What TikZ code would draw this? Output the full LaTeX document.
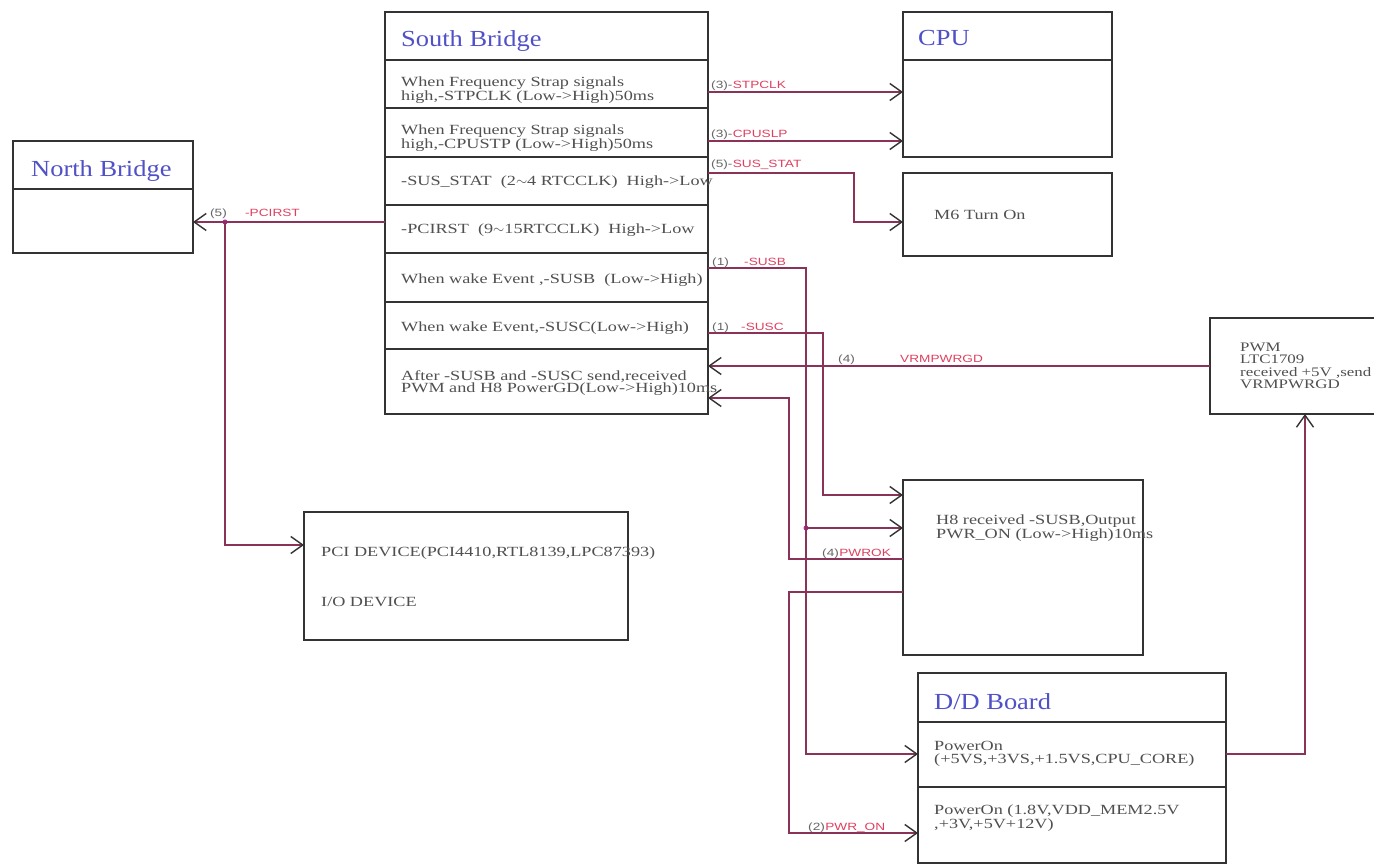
\documentclass[tikz,border=0pt]{standalone}
\usepackage{fontspec}
\setmainfont{Liberation Serif}
\newfontfamily\bodyfam{Liberation Serif}[FakeStretch=1.3]
\newfontfamily\titlefam{Liberation Serif}[FakeStretch=1.15]
\newfontfamily\sigfam{Liberation Sans}[FakeStretch=1.3]
\usetikzlibrary{arrows.meta}
\definecolor{boxc}{HTML}{333333}
\definecolor{titlec}{HTML}{5050C8}
\definecolor{bodyc}{HTML}{505050}
\definecolor{sigc}{HTML}{E04060}
\definecolor{numc}{HTML}{666666}
\definecolor{wirec}{HTML}{8A3258}
\definecolor{dotc}{HTML}{C020C0}
\begin{document}
\begin{tikzpicture}[x=1pt,y=-1pt,
 boxn/.style={draw=boxc, line width=1.8pt, inner sep=0pt, outer sep=0pt, anchor=north west},
 divl/.style={draw=boxc, line width=1.8pt},
 ttl/.style={font=\titlefam\fontsize{23}{26}\selectfont, text=titlec, anchor=west, inner sep=0pt},
 bdy/.style={font=\bodyfam\fontsize{14}{12.5}\selectfont, text=bodyc, anchor=west, align=left, inner sep=0pt},
 sig/.style={font=\sigfam\fontsize{10.5}{12}\selectfont, text=sigc, anchor=base west, inner sep=0pt},
 num/.style={sig, text=numc},
 wire/.style={draw=wirec, line width=1.4pt},
 arr/.style={wire, -{Straight Barb[length=12pt,width=17pt,line width=1.4pt,color=boxc]}},
 jdot/.style={circle, fill=dotc, inner sep=0pt, minimum size=5pt}]

\fill[white] (0,0) rectangle (1374,866);
\useasboundingbox (0,0) rectangle (1374,866);

% ---------- boxes ----------
\node[boxn, minimum width=180pt, minimum height=112pt] (nb) at (13,141) {};
\node[boxn, minimum width=323pt, minimum height=402pt] (sb) at (385,12) {};
\node[boxn, minimum width=209pt, minimum height=145pt] (cpu) at (903,12) {};
\node[boxn, minimum width=209pt, minimum height=83pt] (m6) at (903,173) {};
\node[boxn, minimum width=324pt, minimum height=128pt] (pci) at (304,512) {};
\node[boxn, minimum width=240pt, minimum height=175pt] (h8) at (903,480) {};
\node[boxn, minimum width=200pt, minimum height=96pt] (pwm) at (1210,318) {};
\node[boxn, minimum width=308pt, minimum height=190pt] (dd) at (918,673) {};

% dividers
\draw[divl] (13,189) -- (193,189);
\foreach \yy in {60,108,157,205,253,302,349} \draw[divl] (385,\yy) -- (708,\yy);
\draw[divl] (903,60) -- (1112,60);
\draw[divl] (918,722) -- (1226,722);
\draw[divl] (918,787) -- (1226,787);

% ---------- titles ----------
\node[ttl] (nbT) at (31,171) {North Bridge};
\node[ttl] (sbT) at (401,41) {South Bridge};
\node[ttl] (cpuT) at (918,38) {CPU};
\node[ttl] (ddT) at (934,702) {D/D Board};

% ---------- body texts ----------
\node[bdy] (sb1) at (401,90) {When Frequency Strap signals\\high,-STPCLK (Low->High)50ms};
\node[bdy] (sb2) at (401,138) {When Frequency Strap signals\\high,-CPUSTP (Low->High)50ms};
\node[bdy] (sb3) at (401,182) {-SUS\_STAT\ \ (2$\sim$4 RTCCLK)\ \ High->Low};
\node[bdy] (sb4) at (401,230) {-PCIRST\ \ (9$\sim$15RTCCLK)\ \ High->Low};
\node[bdy] (sb5) at (401,280) {When wake Event ,-SUSB\ \ (Low->High)};
\node[bdy] (sb6) at (401,328) {When wake Event,-SUSC(Low->High)};
\node[bdy] (sb7) at (401,383) {After -SUSB and -SUSC send,received\\PWM and H8 PowerGD(Low->High)10ms};
\node[bdy] (m6T) at (934,215) {M6 Turn On};
\node[bdy, font=\bodyfam\fontsize{14}{50}\selectfont] (pciT) at (321,577) {PCI DEVICE(PCI4410,RTL8139,LPC87393)\\I/O DEVICE};
\node[bdy] (h8T) at (936,528) {H8 received -SUSB,Output\\PWR\_ON (Low->High)10ms};
\node[bdy, font=\bodyfam\fontsize{13}{12.5}\selectfont] (pwmT) at (1240,366) {PWM\\LTC1709\\received +5V ,send\\VRMPWRGD};
\node[bdy] (dd1) at (934,754) {PowerOn\\(+5VS,+3VS,+1.5VS,CPU\_CORE)};
\node[bdy] (dd2) at (934,818) {PowerOn (1.8V,VDD\_MEM2.5V\\,+3V,+5V+12V)};

% ---------- connection points ----------
\coordinate (sbO1) at (708,92);   \coordinate (cpuI1) at (903,92);
\coordinate (sbO2) at (708,141);  \coordinate (cpuI2) at (903,141);
\coordinate (sbO3) at (708,173);  \coordinate (m6I) at (903,222);
\coordinate (sbL) at (385,222);   \coordinate (nbI) at (193,222);
\coordinate (pciI) at (304,545);
\coordinate (sbO5) at (708,268);  \coordinate (sbO6) at (708,333);
\coordinate (sbI1) at (708,366);  \coordinate (sbI2) at (708,398);
\coordinate (pwmO) at (1210,366); \coordinate (pwmI) at (1305,414);
\coordinate (h8I1) at (903,495);  \coordinate (h8I2) at (903,528);
\coordinate (h8O1) at (903,559);  \coordinate (h8O2) at (903,592);
\coordinate (ddI1) at (918,754);  \coordinate (ddI2) at (918,833);
\coordinate (ddO) at (1226,754);

\node[jdot] (j1) at (225,222) {};
\node[jdot] (j2) at (806,528) {};

% ---------- wires ----------
\draw[arr] (sbO1) -- (cpuI1);
\draw[arr] (sbO2) -- (cpuI2);
\draw[arr] (sbO3) -- (854,173) -- (854,222) -- (m6I);
\draw[arr] (sbL) -- (nbI);
\draw[arr] (j1.center) |- (pciI);
\draw[arr] (sbO5) -- (806,268) -- (806,754) -- (ddI1);
\draw[arr] (j2.center) -- (h8I2);
\draw[arr] (sbO6) -- (823,333) -- (823,495) -- (h8I1);
\draw[arr] (pwmO) -- (sbI1);
\draw[arr] (h8O1) -- (789,559) -- (789,398) -- (sbI2);
\draw[arr] (h8O2) -- (789,592) -- (789,833) -- (ddI2);
\draw[arr] (ddO) -- (1305,754) -- (pwmI);

% ---------- signal labels ----------
\node[num] (l1a) at (711,89) {(3)-};
\node[sig] (l1b) at (l1a.base east) {STPCLK};
\node[num] (l2a) at (711,138) {(3)-};
\node[sig] (l2b) at (l2a.base east) {CPUSLP};
\node[num] (l3a) at (711,168) {(5)-};
\node[sig] (l3b) at (l3a.base east) {SUS\_STAT};
\node[num] (l4a) at (210,217) {(5)};
\node[sig] (l4b) at (245,217) {-PCIRST};
\node[num] (l5a) at (712,266) {(1)};
\node[sig] (l5b) at (744,266) {-SUSB};
\node[num] (l6a) at (712,331) {(1)};
\node[sig] (l6b) at (741,331) {-SUSC};
\node[num] (l7a) at (838,363) {(4)};
\node[sig] (l7b) at (900,363) {VRMPWRGD};
\node[num] (l8a) at (822,556) {(4)};
\node[sig] (l8b) at (l8a.base east) {PWROK};
\node[num] (l9a) at (808,830) {(2)};
\node[sig] (l9b) at (l9a.base east) {PWR\_ON};
\end{tikzpicture}
\end{document}
